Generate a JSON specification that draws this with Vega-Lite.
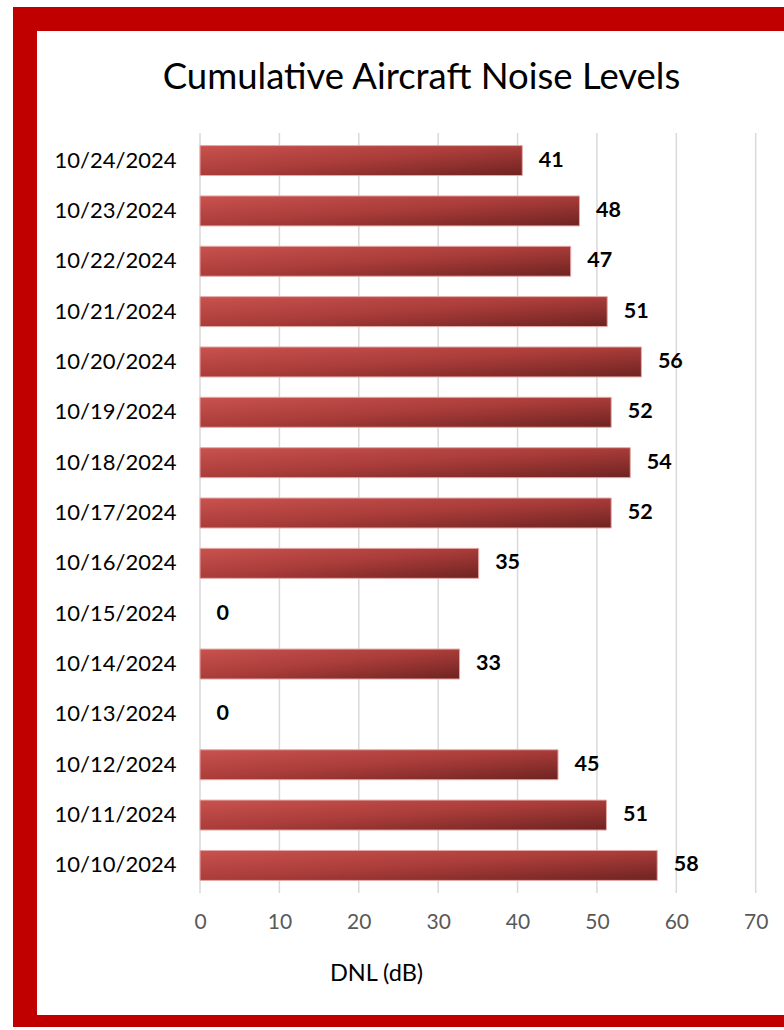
{
  "$schema": "https://vega.github.io/schema/vega-lite/v6.json",
  "width": 785,
  "height": 1008,
  "autosize": {"type": "none"},
  "padding": {"left": 25, "top": 19, "right": 0, "bottom": 0},
  "background": "white",
  "config": {
    "view": {"fill": "white", "stroke": "#c00000", "strokeWidth": 24},
    "font": "Lato"
  },
  "title": {
    "text": "Cumulative Aircraft Noise Levels",
    "font": "Lato",
    "fontSize": 36.5,
    "fontWeight": "normal",
    "color": "#000000",
    "anchor": "middle",
    "dx": 4,
    "dy": 81
  },
  "datasets": {
    "grid": [
      {"value": 0}, {"value": 10}, {"value": 20}, {"value": 30},
      {"value": 40}, {"value": 50}, {"value": 60}, {"value": 70}
    ],
    "noise": [
      {"date": "10/24/2024", "value": 40.6},
      {"date": "10/23/2024", "value": 47.8},
      {"date": "10/22/2024", "value": 46.7},
      {"date": "10/21/2024", "value": 51.3},
      {"date": "10/20/2024", "value": 55.6},
      {"date": "10/19/2024", "value": 51.8},
      {"date": "10/18/2024", "value": 54.2},
      {"date": "10/17/2024", "value": 51.8},
      {"date": "10/16/2024", "value": 35.1},
      {"date": "10/15/2024", "value": 0},
      {"date": "10/14/2024", "value": 32.7},
      {"date": "10/13/2024", "value": 0},
      {"date": "10/12/2024", "value": 45.1},
      {"date": "10/11/2024", "value": 51.2},
      {"date": "10/10/2024", "value": 57.6}
    ]
  },
  "resolve": {"scale": {"y": "independent"}, "axis": {"y": "independent"}},
  "layer": [
    {
      "data": {"name": "grid"},
      "mark": {"type": "rule", "color": "#d9d9d9", "strokeWidth": 1.5},
      "encoding": {
        "x": {"field": "value", "type": "quantitative"},
        "y": {"datum": 0, "type": "quantitative", "scale": {"domain": [0, 1], "range": [114, 874]}, "axis": null},
        "y2": {"datum": 1}
      }
    },
    {
      "data": {"name": "noise"},
      "encoding": {
        "y": {
          "field": "date",
          "type": "nominal",
          "sort": null,
          "scale": {"range": [114, 874], "paddingInner": 0.405, "paddingOuter": 0.25},
          "axis": {
            "orient": "left",
            "offset": -175,
            "domain": false,
            "ticks": false,
            "grid": false,
            "labelPadding": 24,
            "labelFont": "Lato",
            "labelFontSize": 22,
            "labelColor": "#000000",
            "title": null
          }
        },
        "x": {
          "field": "value",
          "type": "quantitative",
          "scale": {"domain": [0, 70], "range": [175, 730.7], "nice": false, "zero": false},
          "axis": {
            "orient": "bottom",
            "offset": -134,
            "domain": false,
            "ticks": false,
            "grid": false,
            "values": [0, 10, 20, 30, 40, 50, 60, 70],
            "labelFlush": false,
            "labelOverlap": false,
            "labelPadding": 18,
            "labelFont": "Lato",
            "labelFontSize": 21,
            "labelColor": "#595959",
            "title": "DNL (dB)",
            "titleFont": "Lato",
            "titleFontSize": 23.5,
            "titleFontWeight": "normal",
            "titleColor": "#000000",
            "titleX": 351,
            "titleY": 80,
            "titleAlign": "center",
            "titleBaseline": "middle",
            "titleAnchor": null
          }
        }
      },
      "layer": [
        {
          "mark": {
            "type": "bar",
            "color": {
              "gradient": "linear",
              "x1": 0, "y1": 0, "x2": 1, "y2": 1,
              "stops": [
                {"offset": 0, "color": "#c9524e"},
                {"offset": 0.5, "color": "#a93c39"},
                {"offset": 1, "color": "#6e2321"}
              ]
            },
            "stroke": "#e3aaa8",
            "strokeWidth": 1
          },
          "encoding": {
            "strokeOpacity": {"condition": {"test": "datum.value == 0", "value": 0}, "value": 1}
          }
        },
        {
          "mark": {
            "type": "text",
            "align": "left",
            "baseline": "middle",
            "dx": 16.5,
            "font": "Lato",
            "fontSize": 21.5,
            "fontWeight": "bold",
            "color": "#000000"
          },
          "encoding": {
            "text": {"field": "value", "type": "quantitative", "format": ".0f"}
          }
        }
      ]
    }
  ]
}
